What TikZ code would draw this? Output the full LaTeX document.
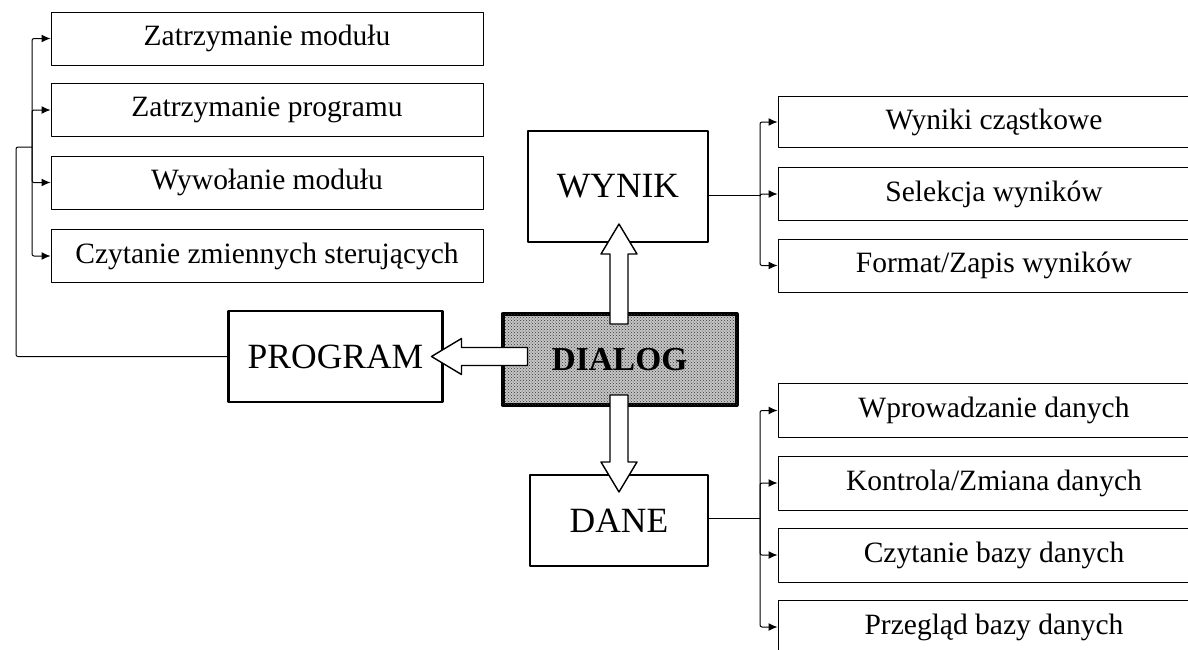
\documentclass[tikz,border=0pt]{standalone}
\usepackage{fontspec}
\setmainfont{Liberation Serif}
\usetikzlibrary{arrows.meta,calc,patterns}

\tikzset{
  item/.style={draw, line width=1pt, inner sep=0pt, minimum width=432pt,
    minimum height=53pt, font=\fontsize{29.5}{34}\selectfont},
  block/.style={draw, line width=2.4pt, inner sep=0pt,
    font=\fontsize{35.5}{40}\selectfont},
  dialogbox/.style={block, line width=4pt, fill=gray!45,
    postaction={pattern=crosshatch dots, pattern color=black!80},
    font=\fontsize{33.5}{40}\selectfont\bfseries},
  bus/.style={line width=1pt, rounded corners=2pt}
}
% hollow block arrow: start point, direction, length
\newcommand{\openarrow}[3]{%
  \draw[line width=1.4pt, fill=white, shift={(#1)}, rotate=#2]
    (0,-9) -- ({#3-30},-9) -- ({#3-30},-18) -- (#3,0)
    -- ({#3-30},18) -- ({#3-30},9) -- (0,9) -- cycle;}

\begin{document}
\begin{tikzpicture}[x=1pt, y=-1pt, line join=round, >={Latex[length=9pt,width=8pt]}]
  \clip (0,0) rectangle (1188,649);
  \fill[white] (0,0) rectangle (1188,649);

  % main blocks
  \node[dialogbox, minimum width=234pt, minimum height=91pt] (dialog) at (619.5,359.5) {DIALOG};
  \node[block, minimum width=214pt, minimum height=91pt] (program) at (335.5,356.5) {PROGRAM};
  \node[block, minimum width=180pt, minimum height=111pt] (wynik) at (618,186.5) {WYNIK};
  \node[block, minimum width=178pt, minimum height=91pt] (dane) at (619,520.5) {DANE};

  % program side
  \node[item] (p1) at (267,38.5) {Zatrzymanie modułu};
  \node[item] (p2) at (267,110) {Zatrzymanie programu};
  \node[item] (p3) at (267,182.5) {Wywołanie modułu};
  \node[item] (p4) at (267,256) {Czytanie zmiennych sterujących};
  \path (32,147) coordinate (pbus)
        (16,147) coordinate (pk);
  \foreach \n in {p1,p2,p3,p4}
    \draw[bus,->] (pbus) |- (\n.west);
  \draw[bus] (program.west) -| (pk) -- (pbus);

  % wynik side
  \node[item, minimum height=51pt] (w1) at (994,122) {Wyniki cząstkowe};
  \node[item] (w2) at (994,194) {Selekcja wyników};
  \node[item] (w3) at (994,265.5) {Format/Zapis wyników};
  \path (760,195) coordinate (wbus);
  \foreach \n in {w1,w2,w3}
    \draw[bus,->] (wbus) |- (\n.west);
  \draw[bus] (wbus -| wynik.east) -- (wbus);

  % dane side
  \node[item, minimum height=54pt] (d1) at (994,410.5) {Wprowadzanie danych};
  \node[item, minimum height=54pt] (d2) at (994,483) {Kontrola/Zmiana danych};
  \node[item, minimum height=54pt] (d3) at (994,555) {Czytanie bazy danych};
  \node[item, minimum height=54pt] (d4) at (994,627) {Przegląd bazy danych};
  \path (760,518) coordinate (dbus);
  \foreach \n in {d1,d2,d3,d4}
    \draw[bus,->] (dbus) |- (\n.west);
  \draw[bus] (dbus -| dane.east) -- (dbus);

  % flow out of the dialog
  \openarrow{$(dialog.north)+(-0.5,12)$}{90}{100}
  \openarrow{$(dialog.west)+(27,-3)$}{180}{96}
  \openarrow{$(dialog.south)+(-0.5,-12)$}{270}{97}
\end{tikzpicture}
\end{document}
